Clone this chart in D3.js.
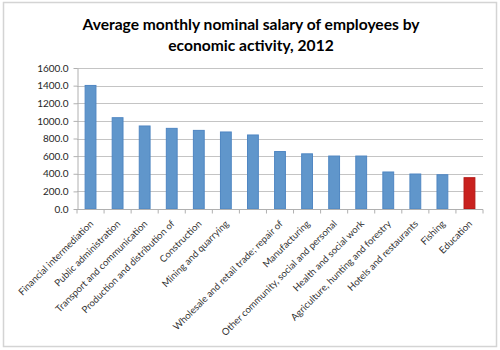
<!DOCTYPE html>
<html>
<head>
<meta charset="utf-8">
<script src="https://cdn.jsdelivr.net/npm/d3@7"></script>
<style>
  body { margin: 0; background: #fff; }
  svg text { font-family: Lato, "Open Sans", sans-serif; fill: #333; }
</style>
</head>
<body>
<div id="chart"></div>
<script>
// Data
const categories = [
    "Financial intermediation",
    "Public administration",
    "Transport and communication",
    "Production and distribution of",
    "Construction",
    "Mining and quarrying",
    "",
    "Wholesale and retail trade; repair of",
    "Manufacturing",
    "Other community, social and personal",
    "Health and social work",
    "Agriculture, hunting and forestry",
    "Hotels and restaurants",
    "Fishing",
    "Education"
];
const salaries = [1402, 1036, 942, 915, 892, 874, 840, 652, 626, 601, 601, 420, 397, 389, 355];
const highlight = ["Education"];
const yTicks = [0, 200, 400, 600, 800, 1000, 1200, 1400, 1600];
const titleLines = ["Average monthly nominal salary of employees by", "economic activity, 2012"];

const width = 500, height = 350;
const margin = { top: 68, right: 17, bottom: 141, left: 77 };

const svg = d3.select("#chart")
    .append("svg")
    .attr("width", width)
    .attr("height", height);

// outer frame
svg.append("rect")
    .attr("x", 3.5).attr("y", 2.5)
    .attr("width", 493).attr("height", 344)
    .attr("fill", "none")
    .attr("stroke", "#d4d4d4")
    .attr("stroke-width", 1.5);

// Title
svg.append("g")
    .selectAll("text")
    .data(titleLines)
    .join("text")
    .attr("x", 251)
    .attr("y", (d, i) => 30 + i * 21)
    .attr("text-anchor", "middle")
    .style("font-size", "15.6px")
    .style("font-weight", "bold")
    .style("fill", "#000")
    .text(d => d);

const xScale = d3.scaleBand()
    .domain(d3.range(categories.length))
    .range([margin.left, width - margin.right])
    .paddingInner(0.6)
    .paddingOuter(0.3);

const yScale = d3.scaleLinear()
    .domain([0, 1600])
    .range([height - margin.bottom, margin.top]);

// gridlines
svg.append("g")
    .selectAll("line")
    .data(yTicks.filter(d => d > 0))
    .join("line")
    .attr("x1", margin.left)
    .attr("x2", width - margin.right)
    .attr("y1", d => Math.round(yScale(d)) + 0.5)
    .attr("y2", d => Math.round(yScale(d)) + 0.5)
    .attr("stroke", "#c4c4c4")
    .attr("stroke-width", 1.2);

// Y axis
const yAxis = svg.append("g")
    .attr("transform", `translate(${margin.left + 0.5},0)`)
    .call(d3.axisLeft(yScale).tickValues(yTicks).tickFormat(d3.format(".1f")).tickSize(4).tickSizeOuter(0));
yAxis.select(".domain").attr("stroke", "#b0b0b0");
yAxis.selectAll(".tick line").attr("stroke", "#b0b0b0");
yAxis.selectAll(".tick text")
    .attr("x", -9)
    .style("font-size", "10px")
    .style("font-family", "Lato, sans-serif")
    .style("fill", "#262626");

// Bars
svg.append("g")
    .selectAll("rect")
    .data(salaries)
    .join("rect")
    .attr("x", (d, i) => xScale(i))
    .attr("y", d => yScale(d))
    .attr("width", xScale.bandwidth())
    .attr("height", d => yScale(0) - yScale(d))
    .attr("fill", (d, i) => highlight.includes(categories[i]) ? "#c9211e" : "#6096cb")
    .attr("stroke", (d, i) => highlight.includes(categories[i]) ? "#b31512" : "#4f86c2")
    .attr("stroke-width", 1);

// X axis
const xAxis = svg.append("g")
    .attr("transform", `translate(0,${Math.round(yScale(0)) + 0.5})`);
xAxis.append("line")
    .attr("x1", margin.left)
    .attr("x2", width - margin.right)
    .attr("stroke", "#b0b0b0");
const step = xScale.step();
xAxis.selectAll(".tick-mark")
    .data(d3.range(categories.length + 1))
    .join("line")
    .attr("class", "tick-mark")
    .attr("x1", i => margin.left + i * step)
    .attr("x2", i => margin.left + i * step)
    .attr("y1", 0)
    .attr("y2", 4)
    .attr("stroke", "#b0b0b0");

// category labels, rotated
svg.append("g")
    .selectAll("text")
    .data(categories)
    .join("text")
    .attr("transform", (d, i) => `translate(${xScale(i) + xScale.bandwidth() / 2 + 1},${yScale(0) + 13}) rotate(-45)`)
    .attr("text-anchor", "end")
    .attr("dy", "0.35em")
    .style("font-size", "9.6px")
    .text(d => d);
</script>
</body>
</html>
